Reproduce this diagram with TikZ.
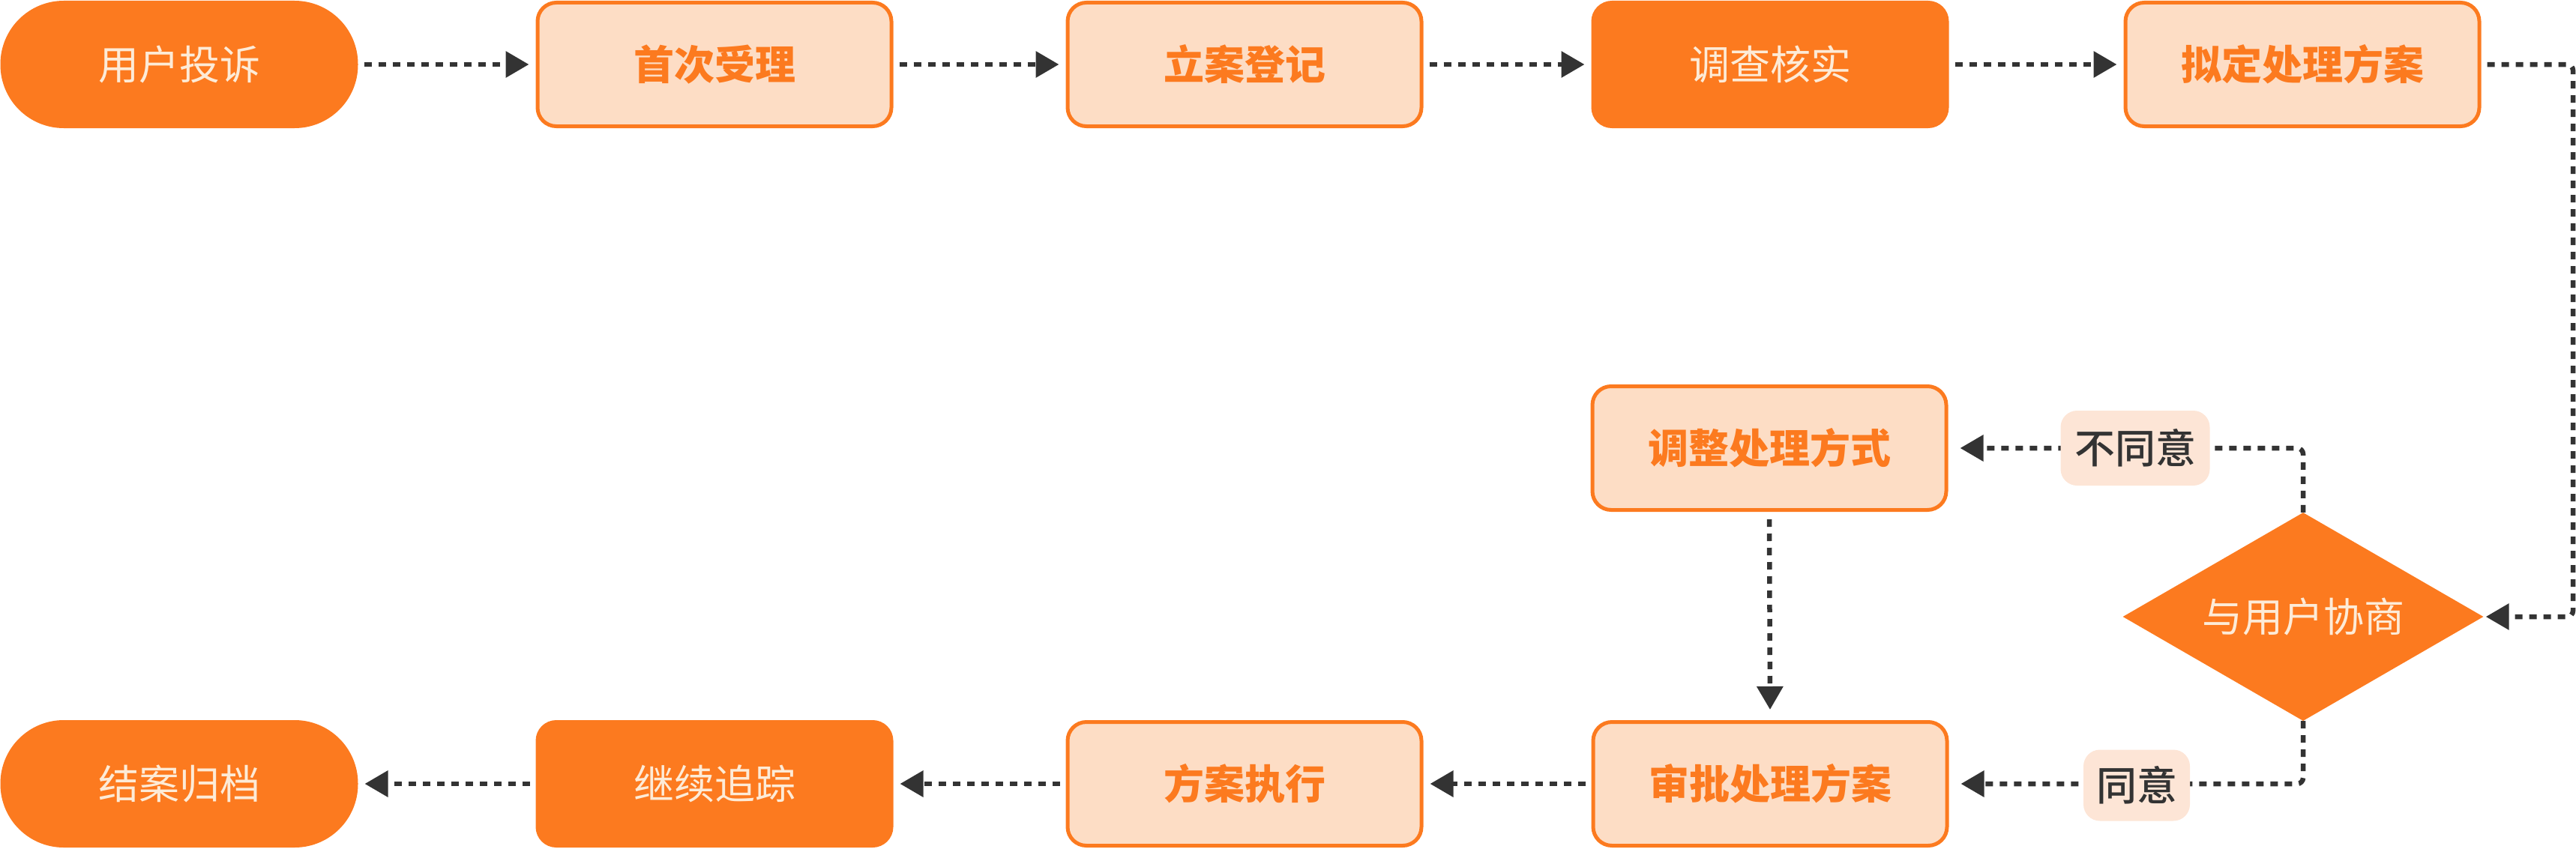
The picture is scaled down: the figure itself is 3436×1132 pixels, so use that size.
\documentclass[tikz,border=0pt]{standalone}
\usepackage{fontspec}
\newfontfamily\cjk{Noto Sans CJK SC}
\newfontfamily\cjkmed{Noto Sans CJK SC Medium}
\usetikzlibrary{arrows.meta,shapes.geometric}
\definecolor{org}{HTML}{FC7A1F}
\definecolor{peach}{HTML}{FDDDC5}
\definecolor{lbl}{HTML}{FDE5D6}
\definecolor{cream}{HTML}{FDEBD7}
\definecolor{dk}{HTML}{333333}
\begin{document}
\begin{tikzpicture}[x=1pt,y=-1pt,
  base/.style={minimum width=472pt,minimum height=165pt,line width=5pt,draw=org,inner sep=0pt,font=\cjk\fontsize{54}{60}\selectfont},
  lightbox/.style={base,fill=peach,rounded corners=25pt,text=org,font=\cjk\bfseries\fontsize{54}{60}\selectfont},
  darkbox/.style={base,fill=org,rounded corners=25pt,text=cream},
  term/.style={base,fill=org,rounded corners=82pt,text=cream},
  decision/.style={diamond,fill=org,minimum width=481pt,minimum height=278pt,inner sep=0pt,aspect=1.73,text=cream,font=\cjk\fontsize{54}{60}\selectfont},
  tag/.style={fill=lbl,rounded corners=22pt,text=dk,minimum height=100pt,minimum width=199pt,inner xsep=17pt,inner ysep=0pt,font=\cjkmed\fontsize{54}{60}\selectfont},
  flow/.style={draw=dk,line width=6.5pt,dash pattern=on 10pt off 9pt,rounded corners=8pt,-{Triangle[length=31pt,width=34pt]},shorten >=9pt,shorten <=8pt}
]
\useasboundingbox (0,0) rectangle (3436,1132);
% top row
\node[term] (u1) at (239,86) {用户投诉};
\node[lightbox] (n2) at (953,86) {首次受理};
\node[lightbox] (n3) at (1660,86) {立案登记};
\node[darkbox] (n4) at (2361,86) {调查核实};
\node[lightbox] (n5) at (3071,86) {拟定处理方案};
% middle
\node[decision] (d) at (3072,823) {与用户协商};
\node[lightbox] (adj) at (2360,598) {调整处理方式};
% bottom row
\node[lightbox] (app) at (2361,1046) {审批处理方案};
\node[lightbox] (exe) at (1660,1046) {方案执行};
\node[darkbox] (trk) at (953,1046) {继续追踪};
\node[term] (fin) at (239,1046) {结案归档};
\coordinate (rc) at (3432,86);
% connectors
\draw[flow] (u1.east) -- (n2.west);
\draw[flow] (n2.east) -- (n3.west);
\draw[flow] (n3.east) -- (n4.west);
\draw[flow] (n4.east) -- (n5.west);
\draw[flow,shorten >=3pt] (n5.east) -- (rc) |- (d.east);
\draw[flow,shorten <=0pt,shorten >=16pt] (d.north) |- (adj.east);
\draw[flow,shorten <=0pt,shorten >=16pt] (d.south) |- (app.east);
\draw[flow,shorten <=10pt,shorten >=14pt] (adj.south) -- (app.north);
\draw[flow] (app.west) -- (exe.east);
\draw[flow] (exe.west) -- (trk.east);
\draw[flow] (trk.west) -- (fin.east);
% labels
\node[tag] (l1) at (2848,598) {不同意};
\node[tag,minimum width=142pt,minimum height=95pt] (l2) at (2850,1048) {同意};
\end{tikzpicture}
\end{document}
